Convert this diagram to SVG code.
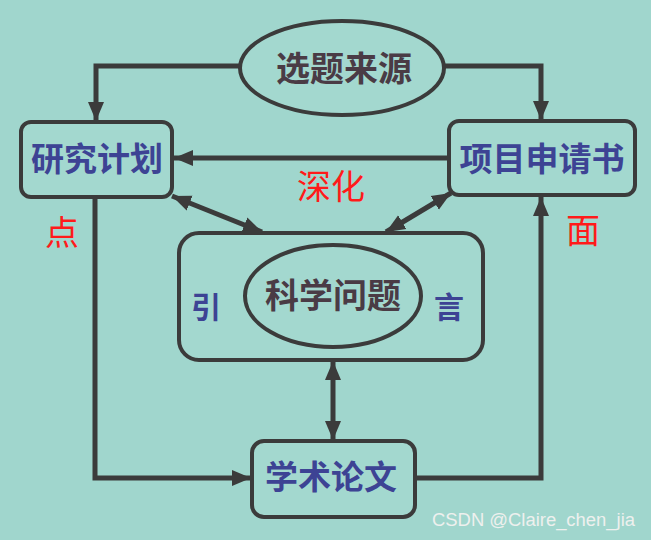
<svg xmlns="http://www.w3.org/2000/svg" width="651" height="540" viewBox="0 0 651 540">
<defs>
<style>
.bg{fill:#a0d6cd}
.shape{fill:#a3d8cf;stroke:#3b3b3b;stroke-width:4}
.conn{fill:none;stroke:#3b3b3b;stroke-width:5}
.t{font-family:"Noto Sans CJK SC","Noto Sans",sans-serif;font-weight:bold;text-anchor:middle;dominant-baseline:central}
.blue{fill:#3d4394}
.dark{fill:#4a3b45}
.red{font-family:"Noto Sans CJK SC","Noto Sans",sans-serif;fill:#ff1a1a;text-anchor:middle;dominant-baseline:central;font-size:34px}
.wm{font-family:"Liberation Sans",Arial,sans-serif;fill:#eef0ee;font-size:18px}
</style>
<marker id="ah" markerUnits="userSpaceOnUse" markerWidth="20" markerHeight="18" refX="19" refY="9" orient="auto-start-reverse">
<path d="M0,1 L19,9 L0,17 z" fill="#3b3b3b"/>
</marker>
</defs>
<rect class="bg" x="0" y="0" width="651" height="540"/>
<g id="connectors">
<path class="conn" d="M241,66 H96 V121" marker-end="url(#ah)"/>
<path class="conn" d="M444,66 H541 V120" marker-end="url(#ah)"/>
<path class="conn" d="M448,158 H174" marker-end="url(#ah)"/>
<path class="conn" d="M172,196 L262,232" marker-start="url(#ah)" marker-end="url(#ah)"/>
<path class="conn" d="M451,193 L386,232" marker-start="url(#ah)" marker-end="url(#ah)"/>
<path class="conn" d="M333,361 V440" marker-start="url(#ah)" marker-end="url(#ah)"/>
<path class="conn" d="M95,197 V478 H251" marker-end="url(#ah)"/>
<path class="conn" d="M415,478 H541 V197" marker-end="url(#ah)"/>
</g>
<g id="node-source">
<ellipse class="shape" cx="342" cy="68" rx="102" ry="47"/>
<text class="t dark" x="344" y="66" font-size="34">选题来源</text>
</g>
<g id="node-plan">
<rect class="shape" x="21" y="122" width="151" height="75" rx="10"/>
<text class="t blue" x="97" y="157" font-size="33">研究计划</text>
</g>
<g id="node-proposal">
<rect class="shape" x="449" y="121" width="186" height="74" rx="10"/>
<text class="t blue" x="542" y="157" font-size="33">项目申请书</text>
</g>
<g id="node-intro">
<rect class="shape" x="179" y="233" width="304" height="127" rx="20" stroke-width="5"/>
<ellipse class="shape" cx="333" cy="296" rx="88" ry="51" stroke-width="3"/>
<text class="t dark" x="333" y="293" font-size="34">科学问题</text>
<text class="t blue" x="206" y="305" font-size="30">引</text>
<text class="t blue" x="449" y="305" font-size="30">言</text>
</g>
<g id="node-paper">
<rect class="shape" x="252" y="441" width="163" height="76" rx="12"/>
<text class="t blue" x="331" y="475" font-size="33">学术论文</text>
</g>
<g id="labels">
<text class="red" x="331" y="184">深化</text>
<text class="red" x="62" y="230">点</text>
<text class="red" x="583" y="228">面</text>
</g>
<text class="wm" x="432" y="526" textLength="203" lengthAdjust="spacingAndGlyphs">CSDN @Claire_chen_jia</text>
</svg>
